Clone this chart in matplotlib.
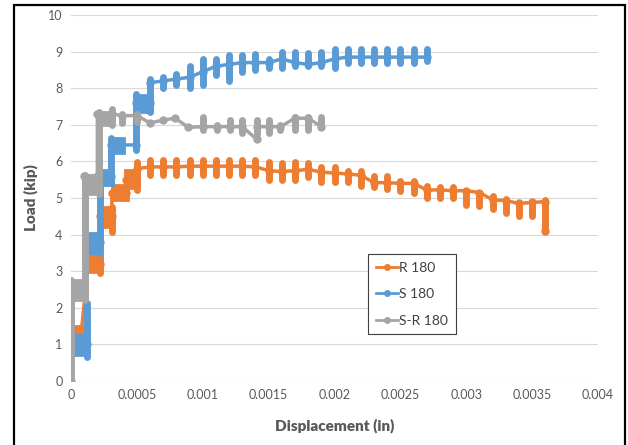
import matplotlib
matplotlib.use("Agg")
import matplotlib.pyplot as plt
from matplotlib.patches import Rectangle

plt.rcParams['font.family'] = ['Lato', 'DejaVu Sans']

# ---------------- data ----------------
series_names = ["R 180", "S 180", "S-R 180"]
colors = ["#ED7D31", "#5B9BD5", "#A5A5A5"]

# R 180 (orange)
r_line_x = [0.00002, 0.00008, 0.00013, 0.00022, 0.00022, 0.00031, 0.00031, 0.00042, 0.00042,
            0.0005, 0.0006, 0.0007, 0.0008, 0.0009, 0.0010, 0.0011, 0.0012, 0.0013, 0.0014,
            0.0015, 0.0016, 0.0017, 0.0018, 0.0019, 0.0020, 0.0021, 0.0022, 0.0023, 0.0024,
            0.0025, 0.0026, 0.0027, 0.0028, 0.0029, 0.0030, 0.0031, 0.0032, 0.0033, 0.0034,
            0.0035, 0.0036, 0.0036]
r_line_y = [1.4, 1.4, 3.2, 3.2, 4.5, 4.5, 5.15, 5.15, 5.5,
            5.8, 5.85, 5.85, 5.85, 5.87, 5.87, 5.87, 5.87, 5.87, 5.85,
            5.75, 5.72, 5.75, 5.78, 5.71, 5.68, 5.66, 5.62, 5.42, 5.42,
            5.40, 5.40, 5.22, 5.22, 5.20, 5.20, 5.15, 4.95, 4.93, 4.85,
            4.88, 4.90, 4.10]
r_band_x0 = [0.00002, 0.00013, 0.00022, 0.00031, 0.00041]
r_band_x1 = [0.00008, 0.00022, 0.00032, 0.00043, 0.00051]
r_band_lo = [1.26, 2.98, 4.20, 4.95, 5.27]
r_band_hi = [1.50, 3.44, 4.75, 5.36, 5.76]
r_bar_x = [0.00022, 0.00031, 0.0005, 0.0006, 0.0007, 0.0008, 0.0009, 0.0010, 0.0011, 0.0012,
           0.0013, 0.0014, 0.0015, 0.0016, 0.0017, 0.0018, 0.0019, 0.0020, 0.0021, 0.0022,
           0.0023, 0.0024, 0.0025, 0.0026, 0.0027, 0.0028, 0.0029, 0.0030, 0.0031, 0.0032,
           0.0033, 0.0034, 0.0035, 0.0036]
r_bar_lo = [2.95, 4.07, 5.22, 5.63, 5.63, 5.63, 5.63, 5.63, 5.63, 5.63,
            5.63, 5.63, 5.50, 5.50, 5.50, 5.57, 5.44, 5.44, 5.44, 5.33,
            5.30, 5.25, 5.20, 5.15, 5.00, 5.00, 5.00, 4.82, 4.78, 4.70,
            4.60, 4.50, 4.50, 4.10]
r_bar_hi = [3.44, 4.75, 5.98, 6.05, 6.05, 6.05, 6.05, 6.05, 6.05, 6.05,
            6.05, 6.05, 5.98, 5.95, 5.98, 5.96, 5.85, 5.85, 5.74, 5.74,
            5.60, 5.60, 5.47, 5.47, 5.33, 5.30, 5.30, 5.15, 5.10, 5.05,
            4.97, 4.85, 4.85, 4.95]

# S 180 (blue)
s_line_x = [0.00002, 0.00012, 0.00012, 0.00022, 0.00022, 0.0003, 0.0003, 0.00049, 0.00049,
            0.0006, 0.0006, 0.0007, 0.0008, 0.0009, 0.0010, 0.0011, 0.0012, 0.0013, 0.0014,
            0.0015, 0.0016, 0.0017, 0.0018, 0.0019, 0.0020, 0.0021, 0.0022, 0.0023, 0.0024,
            0.0025, 0.0026, 0.0027]
s_line_y = [1.0, 1.0, 3.8, 3.8, 5.6, 5.6, 6.45, 6.45, 7.6,
            7.6, 8.15, 8.2, 8.25, 8.3, 8.45, 8.6, 8.65, 8.7, 8.7,
            8.7, 8.8, 8.7, 8.65, 8.7, 8.8, 8.85, 8.85, 8.85, 8.85,
            8.85, 8.85, 8.85]
s_band_x0 = [0.00002, 0.00013, 0.00022, 0.0003, 0.00049]
s_band_x1 = [0.00012, 0.00022, 0.00032, 0.0004, 0.0006]
s_band_lo = [0.70, 3.50, 5.36, 6.23, 7.35]
s_band_hi = [1.26, 4.04, 5.77, 6.64, 7.81]
s_bar_x = [0.00012, 0.00022, 0.0003, 0.00049, 0.0006, 0.0007, 0.0008, 0.0009, 0.0010, 0.0011,
           0.0012, 0.0013, 0.0014, 0.0015, 0.0016, 0.0017, 0.0018, 0.0019, 0.0020, 0.0021,
           0.0022, 0.0023, 0.0024, 0.0025, 0.0026, 0.0027]
s_bar_lo = [0.66, 3.50, 5.40, 6.30, 7.35, 8.00, 8.10, 8.00, 8.10, 8.35,
            8.20, 8.45, 8.50, 8.55, 8.55, 8.60, 8.60, 8.60, 8.55, 8.70,
            8.70, 8.70, 8.70, 8.70, 8.70, 8.75]
s_bar_hi = [2.13, 5.40, 6.64, 7.85, 8.25, 8.30, 8.40, 8.60, 8.80, 8.80,
            8.90, 8.90, 8.93, 8.80, 8.98, 8.98, 8.95, 8.98, 9.07, 9.07,
            9.07, 9.07, 9.07, 9.07, 9.07, 9.07]

# S-R 180 (gray)
g_line_x = [0, 0, 0.0001, 0.0001, 0.0002, 0.0002, 0.00031, 0.00039, 0.0005, 0.0006, 0.0007,
            0.00079, 0.00089, 0.0010, 0.00111, 0.00121, 0.0013, 0.00141, 0.00141, 0.0015,
            0.00159, 0.0017, 0.0018, 0.0019]
g_line_y = [0, 2.7, 2.7, 5.6, 5.6, 7.3, 7.3, 7.25, 7.25, 7.05, 7.13,
            7.18, 6.93, 6.95, 6.95, 6.95, 6.95, 6.60, 6.95, 6.95,
            6.95, 7.18, 7.18, 6.95]
g_band_x0 = [0.0, 0.00011, 0.00021]
g_band_x1 = [0.00011, 0.00021, 0.00031]
g_band_lo = [2.20, 5.10, 7.00]
g_band_hi = [2.75, 5.63, 7.35]
g_bar_x = [0.0, 0.00011, 0.00021, 0.00031, 0.00039, 0.0005, 0.0010, 0.00111, 0.00121, 0.0013,
           0.00141, 0.0015, 0.00159, 0.0017, 0.0018, 0.0019]
g_bar_lo = [0.0, 2.20, 5.10, 7.00, 7.05, 7.07, 6.86, 6.86, 6.86, 6.78,
            6.75, 6.78, 6.86, 6.86, 6.86, 6.94]
g_bar_hi = [2.75, 5.63, 7.35, 7.42, 7.30, 7.30, 7.20, 7.00, 7.13, 7.13,
            7.13, 7.13, 7.00, 7.20, 7.20, 7.20]

x_ticks = [0, 0.0005, 0.001, 0.0015, 0.002, 0.0025, 0.003, 0.0035, 0.004]
x_tick_labels = ["0", "0.0005", "0.001", "0.0015", "0.002", "0.0025", "0.003", "0.0035", "0.004"]
y_ticks = [0, 1, 2, 3, 4, 5, 6, 7, 8, 9, 10]

# ---------------- plot ----------------
fig = plt.figure(figsize=(6.28, 4.45), dpi=100)
ax = fig.add_axes([71/628, 1-381/445, 527/628, 366/445])

all_series = [
    (r_line_x, r_line_y, r_band_x0, r_band_x1, r_band_lo, r_band_hi, r_bar_x, r_bar_lo, r_bar_hi),
    (s_line_x, s_line_y, s_band_x0, s_band_x1, s_band_lo, s_band_hi, s_bar_x, s_bar_lo, s_bar_hi),
    (g_line_x, g_line_y, g_band_x0, g_band_x1, g_band_lo, g_band_hi, g_bar_x, g_bar_lo, g_bar_hi),
]

for i, (lx, ly, bx0, bx1, blo, bhi, vx, vlo, vhi) in enumerate(all_series):
    c = colors[i]
    z = 3 + i * 3
    ax.bar(bx0, [h - l for h, l in zip(bhi, blo)], width=[b - a for a, b in zip(bx0, bx1)],
           bottom=blo, align='edge', color=c, edgecolor=c, linewidth=2.0, zorder=z)
    ax.vlines(vx, vlo, vhi, colors=c, linewidth=5.0, capstyle='round', zorder=z + 1)
    ax.plot(lx, ly, color=c, linewidth=2.5, marker='o', markersize=5,
            label=series_names[i], zorder=z + 2)

ax.set_xlim(0, 0.004)
ax.set_ylim(0, 10)
ax.set_xticks(x_ticks)
ax.set_xticklabels(x_tick_labels)
ax.set_yticks(y_ticks)
ax.tick_params(axis='both', length=0, labelsize=9, labelcolor='#595959', pad=6)
for s in ax.spines.values():
    s.set_visible(False)
ax.grid(axis='y', color='#D9D9D9', linewidth=0.8, zorder=0)
ax.set_axisbelow(True)

ax.set_xlabel("Displacement (in)", fontsize=11, fontweight='heavy', color='#595959', labelpad=12)
ax.set_ylabel("Load (kip)", fontsize=11, fontweight='heavy', color='#595959', labelpad=7)

leg = ax.legend(loc='upper left', bbox_to_anchor=(368/628, 1-254/445),
                bbox_transform=fig.transFigure, borderaxespad=0, fancybox=False, framealpha=1,
                edgecolor='#404040', fontsize=10, handlelength=1.6, handletextpad=0.1,
                labelspacing=1.05, borderpad=0.55, markerscale=0.8, labelcolor='#404040')
leg.get_frame().set_linewidth(0.8)
for line in leg.get_lines():
    line.set_linewidth(2.0)

fig.patches.append(Rectangle((14/628, -0.02), (625-14)/628, 1 - 5/445 + 0.02,
                             transform=fig.transFigure, fill=False, edgecolor='black',
                             linewidth=1.6))

fig.savefig("out.png", dpi=100)
